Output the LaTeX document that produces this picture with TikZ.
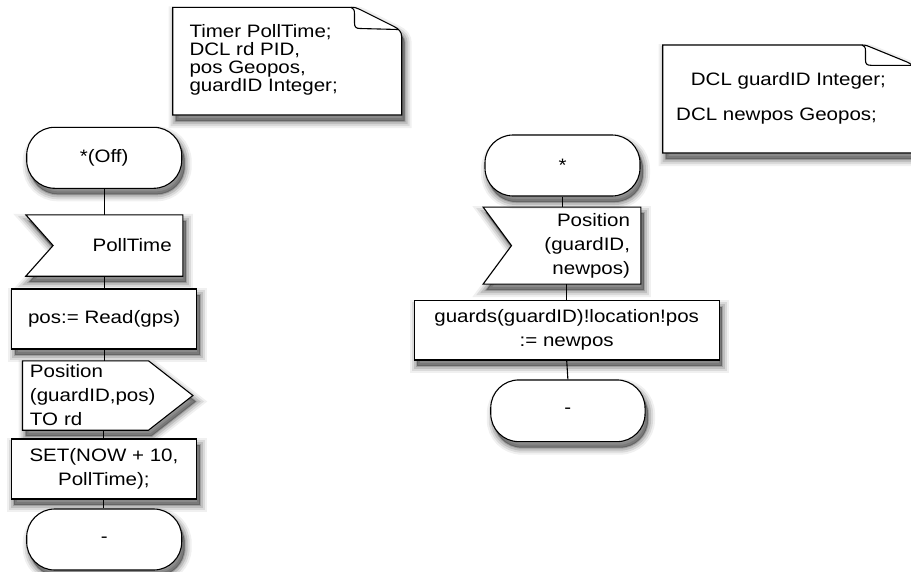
\documentclass[tikz,border=0pt]{standalone}
\usepackage{fontspec}
\setmainfont{Liberation Sans}[FakeStretch=1.14]
\usetikzlibrary{calc,backgrounds}

\tikzset{
  softshadow/.style={
    preaction={draw=black, fill=black, line width=14pt, opacity=0.06,
      transform canvas={shift={(3pt,-6pt)}}},
    preaction={draw=black, fill=black, line width=10pt, opacity=0.09,
      transform canvas={shift={(3pt,-6pt)}}},
    preaction={draw=black, fill=black, line width=6pt, opacity=0.12,
      transform canvas={shift={(3pt,-6pt)}}},
    preaction={draw=black, fill=black, line width=2pt, opacity=0.16,
      transform canvas={shift={(3pt,-6pt)}}}},
  shapeline/.style={softshadow, draw=black, line width=1.1pt, fill=white},
  txt/.style={font=\fontsize{18}{24}\selectfont},
  notetext/.style={font=\fontsize{18}{17.8}\selectfont, align=left, inner sep=0pt},
  terminal/.style={shapeline, txt, rectangle, rounded corners=28pt,
    minimum width=155pt, minimum height=61pt, inner sep=0pt},
  taskbox/.style={shapeline, txt, rectangle, align=center, inner sep=0pt},
  sigframe/.style={txt, rectangle, inner ysep=0pt},
  foldline/.style={draw=black, line width=1.1pt},
  link/.style={draw=black, line width=1.1pt},
}

\begin{document}
\begin{tikzpicture}[x=1pt, y=-1pt]
\useasboundingbox (0,0) rectangle (911,571);

% declaration notes with folded corner
\draw[shapeline] (172.7,7.3) -- (351,7.3) .. controls (355,7.3) and (357,8) .. (360,9.5)
  -- (394,26.5) .. controls (399,29) and (401.7,32) .. (401.7,37)
  -- (401.7,115) -- (172.7,115) -- cycle;
\draw[foldline] (351,7.3) .. controls (353.5,8) and (354.5,10) .. (354.5,14) -- (354.5,23)
  .. controls (354.5,27) and (356,28.5) .. (360,28.5) -- (398,29.5);
\node[notetext, anchor=west] (decl1) at (189.3,59.8)
  {Timer PollTime;\\DCL rd PID,\\pos Geopos,\\guardID Integer;};

\draw[shapeline] (662.7,45) -- (862,45) .. controls (866,45) and (868,46) .. (871,47.3)
  -- (907,62) .. controls (911,63.7) and (914,66) .. (914,71)
  -- (914,153) -- (662.7,153) -- cycle;
\draw[foldline] (862,45) .. controls (864.5,45.5) and (865.5,47.5) .. (865.5,51) -- (865.5,60)
  .. controls (865.5,64) and (867,65.3) .. (871,65.3) -- (911,65.3);
\node[notetext, anchor=base] (decl2a) at (788.4,85) {DCL guardID Integer;};
\node[notetext, anchor=base west] (decl2b) at (676,120) {DCL newpos Geopos;};

% process: poll the GPS and report the position
\node[terminal] (start1) at (104.2,157.8) {*(Off)};
\node[sigframe, minimum width=156.7pt, minimum height=61pt, text width=134.7pt,
      inner xsep=11pt, align=right] (poll) at (104.35,245.5) {PollTime};
\node[taskbox, minimum width=185pt, minimum height=60pt] (read) at (104.2,319) {pos:= Read(gps)};
\node[sigframe, minimum width=170pt, minimum height=69pt, text width=155.4pt,
      inner xsep=7.3pt, align=left] (send) at (107.7,395.5) {Position\\(guardID,pos)\\TO rd};
\node[taskbox, minimum width=185.7pt, minimum height=60pt] (set) at (103.9,469) {SET(NOW + 10,\\PollTime);};
\node[terminal] (end1) at (104.2,539.5) {-};

% process: store the received position
\node[terminal] (start2) at (562.5,165.5) {*};
\node[sigframe, minimum width=157.4pt, minimum height=76.7pt, text width=136pt,
      inner xsep=10.7pt, align=right] (rsig) at (562,245.6) {Position\\(guardID,\\newpos)};
\node[taskbox, minimum width=305.3pt, minimum height=59.3pt] (guards) at (566.7,330.3)
  {guards(guardID)!location!pos\\:= newpos};
\node[terminal, minimum width=154.3pt, minimum height=61.7pt] (end2) at (567.9,410.8) {-};

% signal outlines behind their texts
\begin{scope}[on background layer]
\draw[shapeline] (poll.north west) -- (poll.north east) -- (poll.south east)
  -- (poll.south west) -- ($(poll.west)+(27.3,0)$) -- cycle;
\draw[shapeline] (send.north west) -- ($(send.north east)+(-44.4,0)$) -- (send.east)
  -- ($(send.south east)+(-44.4,0)$) -- (send.south west) -- cycle;
\draw[shapeline] (rsig.north west) -- (rsig.north east) -- (rsig.south east)
  -- (rsig.south west) -- ($(rsig.west)+(28.4,0)$) -- cycle;
\end{scope}

% flow lines
\draw[link] (start1.south) -- (start1.south |- poll.north);
\draw[link] (poll.south) -- (poll.south |- read.north);
\draw[link] (read.south) -- (read.south |- send.north);
\draw[link] (set.north |- send.south) -- (set.north);
\draw[link] (set.south) -- (set.south |- end1.north);

\draw[link] (start2.south) -- (start2.south |- rsig.north);
\draw[link] (guards.north |- rsig.south) -- (guards.north);
\draw[link] (guards.south) -- (end2.north);
\end{tikzpicture}
\end{document}
